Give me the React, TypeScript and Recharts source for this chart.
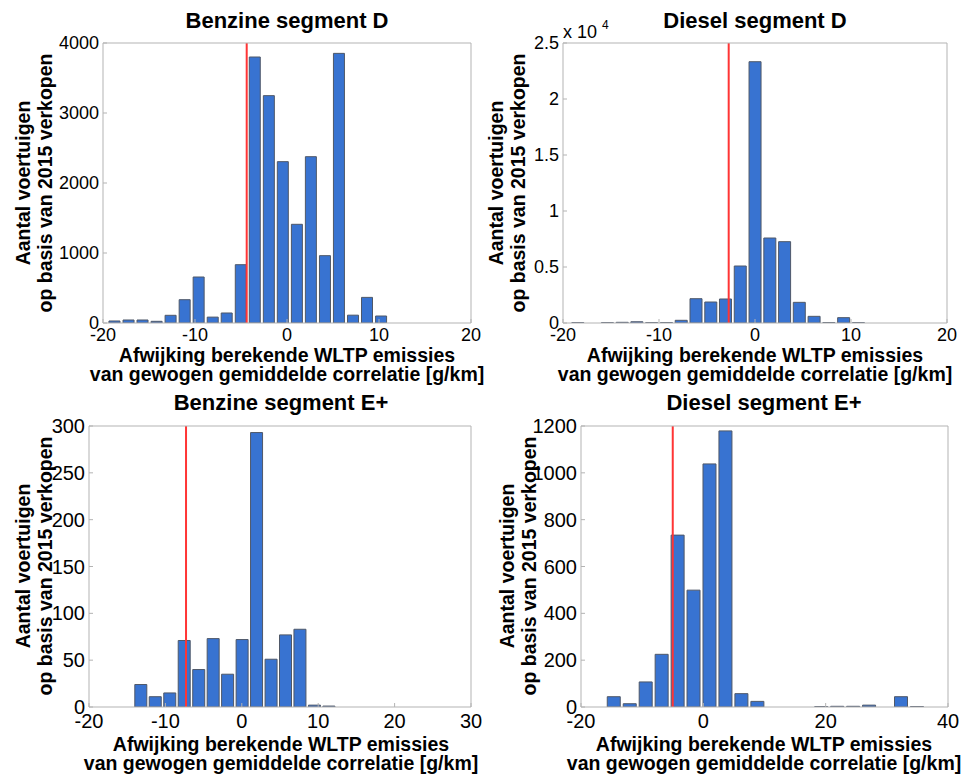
import React from 'react';
import { ComposedChart, Bar, XAxis, YAxis, ReferenceLine } from 'recharts';

const FONT = '"Liberation Sans", Arial, Helvetica, sans-serif';
const BAR_FILL = '#3873d1';
const BAR_EDGE = '#4f5868';
const BOX = '#b3b3b3';
const RED = '#ff3535';

// Benzine segment D
const benzDX = [-18.7, -17.17, -15.65, -14.12, -12.6, -11.07, -9.55, -8.02, -6.5, -4.97, -3.45, -1.92, -0.4, 1.13, 2.65, 4.18, 5.7, 7.23, 8.75, 10.28];
const benzDCount = [29, 43, 43, 24, 110, 333, 657, 84, 143, 833, 3800, 3248, 2305, 1410, 2376, 962, 3852, 112, 366, 100];
const benzDMean = -4.38;

// Diesel segment D
const dieselDX = [-18.42, -16.88, -15.34, -13.8, -12.27, -10.73, -9.19, -7.65, -6.11, -4.57, -3.04, -1.5, 0.04, 1.58, 3.12, 4.65, 6.19, 7.73, 9.27, 10.81];
const dieselDCount = [30, 0, 30, 60, 110, 30, 40, 240, 2170, 1875, 2143, 5089, 23330, 7589, 7262, 1845, 595, 40, 476, 30];
const dieselDMean = -2.74;

// Benzine segment E+
const benzEX = [-13.19, -11.3, -9.4, -7.51, -5.61, -3.72, -1.83, 0.07, 1.96, 3.86, 5.75, 7.64, 9.54, 11.43, 13.33, 15.22, 17.12, 19.01, 20.9, 22.8];
const benzECount = [24, 11, 15, 71, 40, 73, 35, 72, 293, 51, 77, 83, 2, 1, 0, 0, 0, 0, 0, 0];
const benzEMean = -7.3;

// Diesel segment E+
const dieselEX = [-14.57, -11.96, -9.35, -6.74, -4.13, -1.53, 1.08, 3.69, 6.3, 8.91, 11.52, 14.13, 16.74, 19.35, 21.96, 24.57, 27.17, 29.78, 32.39, 35.0];
const dieselECount = [44, 14, 107, 225, 734, 499, 1038, 1179, 57, 24, 0, 0, 0, 2, 3, 3, 8, 0, 44, 2];
const dieselEMean = -5.0;

const ticksD = [-20, -10, 0, 10, 20];
const ticksBenzE = [-20, -10, 0, 10, 20, 30];
const ticksDieselE = [-20, 0, 20, 40];

const yTicksBenzD = [0, 1000, 2000, 3000, 4000];
const yTicksDieselD = [0, 5000, 10000, 15000, 20000, 25000];
const yTicksBenzE = [0, 50, 100, 150, 200, 250, 300];
const yTicksDieselE = [0, 200, 400, 600, 800, 1000, 1200];

const titles = ['Benzine segment D', 'Diesel segment D', 'Benzine segment E+', 'Diesel segment E+'];
const yLabel = ['Aantal voertuigen', 'op basis van 2015 verkopen'];
const xLabel = ['Afwijking berekende WLTP emissies', 'van gewogen gemiddelde correlatie [g/km]'];

type Rect = { left: number; top: number; right: number; bottom: number };

interface PanelProps {
  box: Rect;
  plot: Rect;
  xs: number[];
  counts: number[];
  mean: number;
  xTicks: number[];
  yTicks: number[];
  barSize: number;
  fontSize: number;
  xGap: number;
  yFormat?: (v: number) => string;
}

function Panel({ box, plot, xs, counts, mean, xTicks, yTicks, barSize, fontSize, xGap, yFormat }: PanelProps) {
  const data = xs.map((x, i) => ({ x, n: counts[i] }));
  const w = box.right - box.left;
  const h = box.bottom - box.top;
  const xDomain = [xTicks[0], xTicks[xTicks.length - 1]];
  const yDomain = [yTicks[0], yTicks[yTicks.length - 1]];
  const tickStyle = { fill: '#000', fontSize, fontFamily: FONT };
  const inner = { stroke: BOX, strokeWidth: 1 };

  return (
    <div style={{ position: 'absolute', left: box.left, top: box.top }}>
      <ComposedChart
        width={w}
        height={h}
        data={data}
        margin={{ top: plot.top - box.top, right: box.right - plot.right, bottom: 0, left: 0 }}
      >
        {/* labelled axes: inward ticks through a negative tick size */}
        <XAxis
          xAxisId="x"
          dataKey="x"
          type="number"
          domain={xDomain}
          ticks={xTicks}
          interval={0}
          allowDataOverflow
          height={box.bottom - plot.bottom}
          axisLine={inner}
          tickLine={inner}
          tickSize={-4}
          tickMargin={xGap + 4}
          tick={tickStyle}
        />
        <YAxis
          yAxisId="y"
          type="number"
          domain={yDomain}
          ticks={yTicks}
          interval={0}
          allowDataOverflow
          width={plot.left - box.left}
          axisLine={inner}
          tickLine={inner}
          tickSize={-4}
          tickMargin={8}
          tick={tickStyle}
          tickFormatter={yFormat}
        />
        {/* box: top and right sides */}
        <XAxis xAxisId="xt" dataKey="x" type="number" orientation="top" domain={xDomain} ticks={xTicks} interval={0} allowDataOverflow
          mirror height={1} tick={false} tickSize={4} axisLine={inner} tickLine={inner} />
        <YAxis yAxisId="yr" type="number" orientation="right" domain={yDomain} ticks={yTicks} interval={0} allowDataOverflow
          mirror width={1} tick={false} tickSize={4} axisLine={inner} tickLine={inner} />
        <Bar
          xAxisId="x"
          yAxisId="y"
          dataKey="n"
          barSize={barSize}
          fill={BAR_FILL}
          stroke={BAR_EDGE}
          strokeWidth={1}
          isAnimationActive={false}
        />
        <ReferenceLine xAxisId="x" yAxisId="y" x={mean} stroke={RED} strokeWidth={2} />
      </ComposedChart>
    </div>
  );
}

function TwoLines({ x, y, lines, gap, rotate }: { x: number; y: number; lines: string[]; gap: number; rotate?: boolean }) {
  return (
    <>
      {lines.map((s, i) => (
        <text
          key={s}
          transform={rotate ? `translate(${x + i * gap},${y}) rotate(-90)` : `translate(${x},${y + i * gap})`}
          textAnchor="middle"
          dominantBaseline={rotate ? 'central' : 'auto'}
          fontFamily={FONT}
          fontWeight="bold"
          fontSize={19.5}
          fill="#000"
        >
          {s}
        </text>
      ))}
    </>
  );
}

export default function App() {
  return (
    <div style={{ position: 'absolute', left: 0, top: 0, width: 968, height: 778, background: '#fff', fontFamily: FONT }}>
      <Panel
        box={{ left: 0, top: 0, right: 484, bottom: 389 }}
        plot={{ left: 103, top: 43, right: 471, bottom: 323 }}
        xs={benzDX} counts={benzDCount} mean={benzDMean}
        xTicks={ticksD} yTicks={yTicksBenzD} barSize={11} fontSize={18} xGap={5}
      />
      <Panel
        box={{ left: 484, top: 0, right: 968, bottom: 389 }}
        plot={{ left: 563, top: 43, right: 947, bottom: 323 }}
        xs={dieselDX} counts={dieselDCount} mean={dieselDMean}
        xTicks={ticksD} yTicks={yTicksDieselD} barSize={12} fontSize={18} xGap={5}
        yFormat={(v) => String(v / 10000)}
      />
      <Panel
        box={{ left: 0, top: 389, right: 484, bottom: 778 }}
        plot={{ left: 89, top: 426, right: 471, bottom: 707 }}
        xs={benzEX} counts={benzECount} mean={benzEMean}
        xTicks={ticksBenzE} yTicks={yTicksBenzE} barSize={12} fontSize={20} xGap={7}
      />
      <Panel
        box={{ left: 484, top: 389, right: 968, bottom: 778 }}
        plot={{ left: 581, top: 426, right: 948, bottom: 707 }}
        xs={dieselEX} counts={dieselECount} mean={dieselEMean}
        xTicks={ticksDieselE} yTicks={yTicksDieselE} barSize={13} fontSize={20} xGap={7}
      />

      <svg width={968} height={778} style={{ position: 'absolute', left: 0, top: 0, pointerEvents: 'none' }}>
        <g fontFamily={FONT} fontWeight="bold" fontSize={22} fill="#000" textAnchor="middle">
          <text x={287} y={28}>{titles[0]}</text>
          <text x={755} y={28}>{titles[1]}</text>
          <text x={281} y={410}>{titles[2]}</text>
          <text x={764} y={410}>{titles[3]}</text>
        </g>

        <TwoLines x={23} y={183} lines={yLabel} gap={22} rotate />
        <TwoLines x={496} y={183} lines={yLabel} gap={22} rotate />
        <TwoLines x={23} y={566} lines={yLabel} gap={22} rotate />
        <TwoLines x={507} y={566} lines={yLabel} gap={22} rotate />

        <TwoLines x={287} y={362} lines={xLabel} gap={18.5} />
        <TwoLines x={755} y={362} lines={xLabel} gap={18.5} />
        <TwoLines x={281} y={751} lines={xLabel} gap={19} />
        <TwoLines x={764} y={751} lines={xLabel} gap={19} />

        <text x={563} y={38} fontFamily={FONT} fontSize={18} fill="#000">x 10</text>
        <text x={602} y={29} fontFamily={FONT} fontSize={12} fill="#000">4</text>
      </svg>
    </div>
  );
}
